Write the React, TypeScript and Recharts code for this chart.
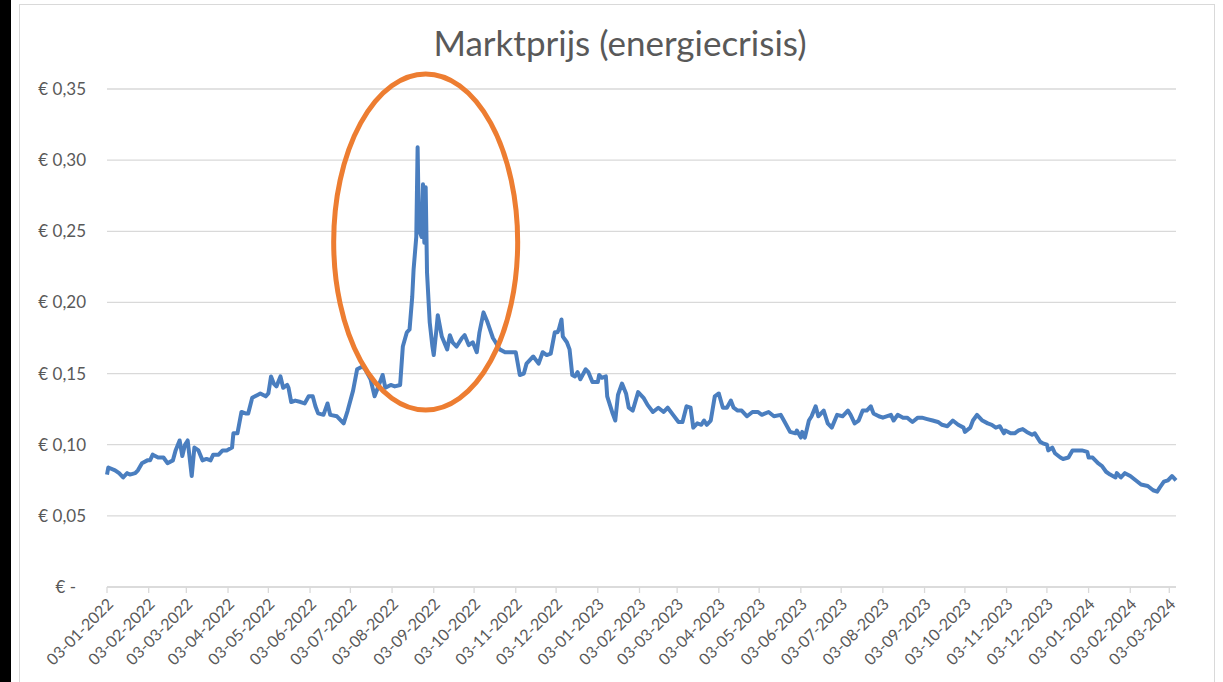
import React from 'react';
import { LineChart, Line, XAxis, YAxis, CartesianGrid, ReferenceDot } from 'recharts';

const title = 'Marktprijs (energiecrisis)';

const dates: string[] = [
  '2022-01-03','2022-01-04','2022-01-09','2022-01-12','2022-01-15','2022-01-18','2022-01-20','2022-01-24','2022-01-26','2022-01-29',
  '2022-02-02','2022-02-04','2022-02-06','2022-02-10','2022-02-14','2022-02-17','2022-02-21','2022-02-23','2022-02-26','2022-02-28',
  '2022-03-02','2022-03-04','2022-03-07','2022-03-09','2022-03-12','2022-03-15','2022-03-18','2022-03-21','2022-03-23','2022-03-27','2022-03-30',
  '2022-04-02','2022-04-06','2022-04-07','2022-04-10','2022-04-13','2022-04-16','2022-04-18','2022-04-21','2022-04-25','2022-04-27',
  '2022-05-01','2022-05-03','2022-05-05','2022-05-07','2022-05-09','2022-05-12','2022-05-14','2022-05-17','2022-05-18','2022-05-20','2022-05-23','2022-05-27','2022-05-30',
  '2022-06-02','2022-06-05','2022-06-07','2022-06-09','2022-06-13','2022-06-16','2022-06-18','2022-06-23','2022-06-28',
  '2022-07-01','2022-07-05','2022-07-08','2022-07-12','2022-07-14','2022-07-18','2022-07-21','2022-07-23','2022-07-27','2022-07-29',
  '2022-08-02','2022-08-05','2022-08-09','2022-08-11','2022-08-14','2022-08-16','2022-08-18','2022-08-19','2022-08-21','2022-08-22','2022-08-23','2022-08-25','2022-08-26','2022-08-27','2022-08-28','2022-08-29','2022-08-31',
  '2022-09-02','2022-09-03','2022-09-05','2022-09-06','2022-09-09','2022-09-13','2022-09-15','2022-09-17','2022-09-20','2022-09-24','2022-09-26','2022-09-29',
  '2022-10-02','2022-10-05','2022-10-07','2022-10-10','2022-10-13','2022-10-17','2022-10-19','2022-10-22','2022-10-26','2022-10-30',
  '2022-11-03','2022-11-06','2022-11-09','2022-11-11','2022-11-16','2022-11-20','2022-11-23','2022-11-26','2022-11-29',
  '2022-12-02','2022-12-04','2022-12-05','2022-12-07','2022-12-08','2022-12-11','2022-12-13','2022-12-15','2022-12-17','2022-12-19','2022-12-21','2022-12-25','2022-12-27','2022-12-30',
  '2023-01-03','2023-01-04','2023-01-06','2023-01-09','2023-01-10','2023-01-14','2023-01-16','2023-01-18','2023-01-21','2023-01-24','2023-01-26','2023-01-29',
  '2023-02-02','2023-02-06','2023-02-09','2023-02-13','2023-02-17','2023-02-21','2023-02-24','2023-02-28',
  '2023-03-04','2023-03-07','2023-03-10','2023-03-13','2023-03-15','2023-03-18','2023-03-21','2023-03-23','2023-03-25','2023-03-28','2023-03-31',
  '2023-04-03','2023-04-06','2023-04-09','2023-04-12','2023-04-14','2023-04-17','2023-04-20','2023-04-24','2023-04-28',
  '2023-05-02','2023-05-05','2023-05-10','2023-05-14','2023-05-19','2023-05-22','2023-05-26','2023-05-30','2023-05-31',
  '2023-06-03','2023-06-04','2023-06-06','2023-06-09','2023-06-11','2023-06-14','2023-06-16','2023-06-20','2023-06-23','2023-06-26','2023-06-30',
  '2023-07-04','2023-07-08','2023-07-10','2023-07-13','2023-07-16','2023-07-19','2023-07-22','2023-07-25','2023-07-27','2023-07-31',
  '2023-08-03','2023-08-09','2023-08-11','2023-08-14','2023-08-18','2023-08-21','2023-08-25','2023-08-29',
  '2023-09-01','2023-09-05','2023-09-09','2023-09-13','2023-09-16','2023-09-20','2023-09-24','2023-09-28',
  '2023-10-02','2023-10-03','2023-10-07','2023-10-09','2023-10-12','2023-10-16','2023-10-20','2023-10-23','2023-10-26','2023-10-29',
  '2023-11-01','2023-11-02','2023-11-06','2023-11-09','2023-11-12','2023-11-15','2023-11-18','2023-11-22','2023-11-24','2023-11-28','2023-11-30',
  '2023-12-03','2023-12-04','2023-12-07','2023-12-09','2023-12-13','2023-12-15','2023-12-19','2023-12-22','2023-12-26','2023-12-29',
  '2024-01-02','2024-01-03','2024-01-06','2024-01-10','2024-01-13','2024-01-16','2024-01-19','2024-01-23','2024-01-24','2024-01-27','2024-01-30',
  '2024-02-03','2024-02-07','2024-02-11','2024-02-16','2024-02-20','2024-02-23','2024-02-25','2024-02-28',
  '2024-03-02','2024-03-05','2024-03-06','2024-03-08',
];

const prices: number[] = [
  0.079,0.084,0.082,0.080,0.077,0.080,0.079,0.080,0.082,0.087,
  0.089,0.089,0.093,0.091,0.091,0.087,0.089,0.096,0.103,0.092,
  0.100,0.103,0.078,0.098,0.096,0.089,0.090,0.089,0.093,0.093,0.096,
  0.096,0.098,0.108,0.108,0.123,0.122,0.122,0.133,0.135,0.136,
  0.134,0.136,0.148,0.143,0.141,0.148,0.140,0.142,0.140,0.130,0.131,0.130,0.129,
  0.134,0.134,0.127,0.122,0.121,0.129,0.121,0.120,0.115,
  0.124,0.138,0.153,0.155,0.153,0.146,0.134,0.139,0.149,0.140,
  0.142,0.141,0.142,0.169,0.179,0.181,0.204,0.223,0.246,0.309,0.251,0.246,0.283,0.242,0.281,0.221,0.186,
  0.169,0.163,0.181,0.191,0.176,0.167,0.177,0.172,0.169,0.175,0.177,0.170,
  0.172,0.165,0.179,0.193,0.186,0.175,0.172,0.167,0.165,0.165,
  0.165,0.149,0.150,0.157,0.162,0.157,0.165,0.163,0.164,
  0.179,0.179,0.181,0.188,0.176,0.172,0.167,0.149,0.148,0.151,0.146,0.153,0.151,0.144,
  0.144,0.149,0.147,0.148,0.134,0.122,0.117,0.135,0.143,0.136,0.126,0.124,
  0.137,0.133,0.128,0.123,0.126,0.123,0.126,0.121,
  0.116,0.116,0.127,0.126,0.112,0.115,0.114,0.117,0.114,0.117,0.134,
  0.136,0.126,0.126,0.131,0.126,0.124,0.124,0.120,0.123,
  0.123,0.121,0.123,0.120,0.121,0.116,0.109,0.108,0.110,
  0.105,0.109,0.105,0.117,0.120,0.127,0.120,0.124,0.115,0.112,0.121,
  0.120,0.124,0.121,0.115,0.117,0.124,0.124,0.127,0.122,0.120,
  0.119,0.121,0.117,0.121,0.119,0.119,0.116,0.119,
  0.119,0.118,0.117,0.116,0.114,0.113,0.117,0.114,
  0.112,0.109,0.112,0.117,0.121,0.117,0.115,0.114,0.112,0.113,
  0.108,0.110,0.108,0.108,0.110,0.111,0.109,0.107,0.108,0.102,0.101,
  0.100,0.096,0.098,0.094,0.091,0.090,0.091,0.096,0.096,0.096,
  0.095,0.091,0.091,0.087,0.085,0.081,0.079,0.077,0.080,0.077,0.080,
  0.078,0.075,0.072,0.071,0.068,0.067,0.070,0.074,
  0.075,0.078,0.077,0.075,
];

const xTickLabels: string[] = [
  '03-01-2022','03-02-2022','03-03-2022','03-04-2022','03-05-2022','03-06-2022','03-07-2022','03-08-2022','03-09-2022','03-10-2022','03-11-2022','03-12-2022',
  '03-01-2023','03-02-2023','03-03-2023','03-04-2023','03-05-2023','03-06-2023','03-07-2023','03-08-2023','03-09-2023','03-10-2023','03-11-2023','03-12-2023',
  '03-01-2024','03-02-2024','03-03-2024',
];

const yTicks: number[] = [0, 0.05, 0.1, 0.15, 0.2, 0.25, 0.3, 0.35];

// annotation ellipse centre (data coordinates)
const highlightDate = '2022-08-28';
const highlightPrice = 0.2425;

const FONT = 'Lato, "Noto Sans", sans-serif';
const TEXT = '#595959';
const GRID = '#d9d9d9';

const isoTs = (d: string) => Date.parse(d + 'T00:00:00Z');
const labelTs = (l: string) => {
  const [dd, mm, yyyy] = l.split('-');
  return Date.UTC(+yyyy, +mm - 1, +dd);
};
const fmtDate = (ts: number) => {
  const d = new Date(ts);
  const p = (n: number) => (n < 10 ? '0' + n : '' + n);
  return `${p(d.getUTCDate())}-${p(d.getUTCMonth() + 1)}-${d.getUTCFullYear()}`;
};
const fmtPrice = (v: number) => (v === 0 ? '€ -' : '€ ' + v.toFixed(2).replace('.', ','));

const data = dates.map((d, i) => ({ t: isoTs(d), price: prices[i] }));
const xTicks = xTickLabels.map(labelTs);

const XTick = (props: any) => {
  const { x, y, payload } = props;
  return (
    <g transform={`translate(${x + 3},${y + 6})`}>
      <text
        x={0}
        y={0}
        dy={6}
        textAnchor="end"
        transform="rotate(-45)"
        fill={TEXT}
        fontSize={16}
        fontFamily={FONT}
      >
        {fmtDate(payload.value)}
      </text>
    </g>
  );
};

const YTick = (props: any) => {
  const { x, y, payload } = props;
  return (
    <text
      x={payload.value === 0 ? x - 10 : x}
      y={y}
      dy={6}
      textAnchor="end"
      fill={TEXT}
      fontSize={17}
      fontFamily={FONT}
    >
      {fmtPrice(payload.value)}
    </text>
  );
};

export default function App() {
  return (
    <div style={{ position: 'absolute', left: 0, top: 0, width: 1223, height: 682, background: '#fff', overflow: 'hidden' }}>
      <div style={{ position: 'absolute', left: 0, top: 0, width: 11, height: 682, background: '#000' }} />
      <div
        style={{
          position: 'absolute',
          left: 19,
          top: 4,
          width: 1194,
          height: 700,
          border: `1.5px solid ${GRID}`,
        }}
      />
      <div
        style={{
          position: 'absolute',
          left: 0,
          top: 21,
          width: 1240,
          textAlign: 'center',
          fontFamily: FONT,
          fontSize: 35,
          color: TEXT,
        }}
      >
        {title}
      </div>
      <div style={{ position: 'absolute', left: 0, top: 0 }}>
        <LineChart width={1223} height={682} data={data} margin={{ top: 89, right: 47, bottom: 0, left: 20 }}>
          <CartesianGrid horizontal vertical={false} stroke={GRID} strokeWidth={1.3} />
          <XAxis
            dataKey="t"
            type="number"
            domain={[isoTs(dates[0]), isoTs(dates[dates.length - 1])]}
            ticks={xTicks}
            interval={0}
            height={95}
            axisLine={{ stroke: GRID, strokeWidth: 1.3 }}
            tickLine={{ stroke: GRID, strokeWidth: 1.3 }}
            tickSize={6}
            tick={<XTick />}
          />
          <YAxis
            type="number"
            domain={[0, 0.35]}
            ticks={yTicks}
            width={87}
            axisLine={false}
            tickLine={false}
            tickSize={6}
            tickMargin={15}
            tick={<YTick />}
          />
          <Line
            type="linear"
            dataKey="price"
            stroke="#4a7ebf"
            strokeWidth={4}
            strokeLinejoin="round"
            dot={false}
            isAnimationActive={false}
          />
          <ReferenceDot
            x={isoTs(highlightDate)}
            y={highlightPrice}
            ifOverflow="visible"
            shape={(p: any) => (
              <ellipse cx={p.cx} cy={p.cy} rx={92} ry={168} fill="none" stroke="#ED7D31" strokeWidth={5} />
            )}
          />
        </LineChart>
      </div>
    </div>
  );
}
